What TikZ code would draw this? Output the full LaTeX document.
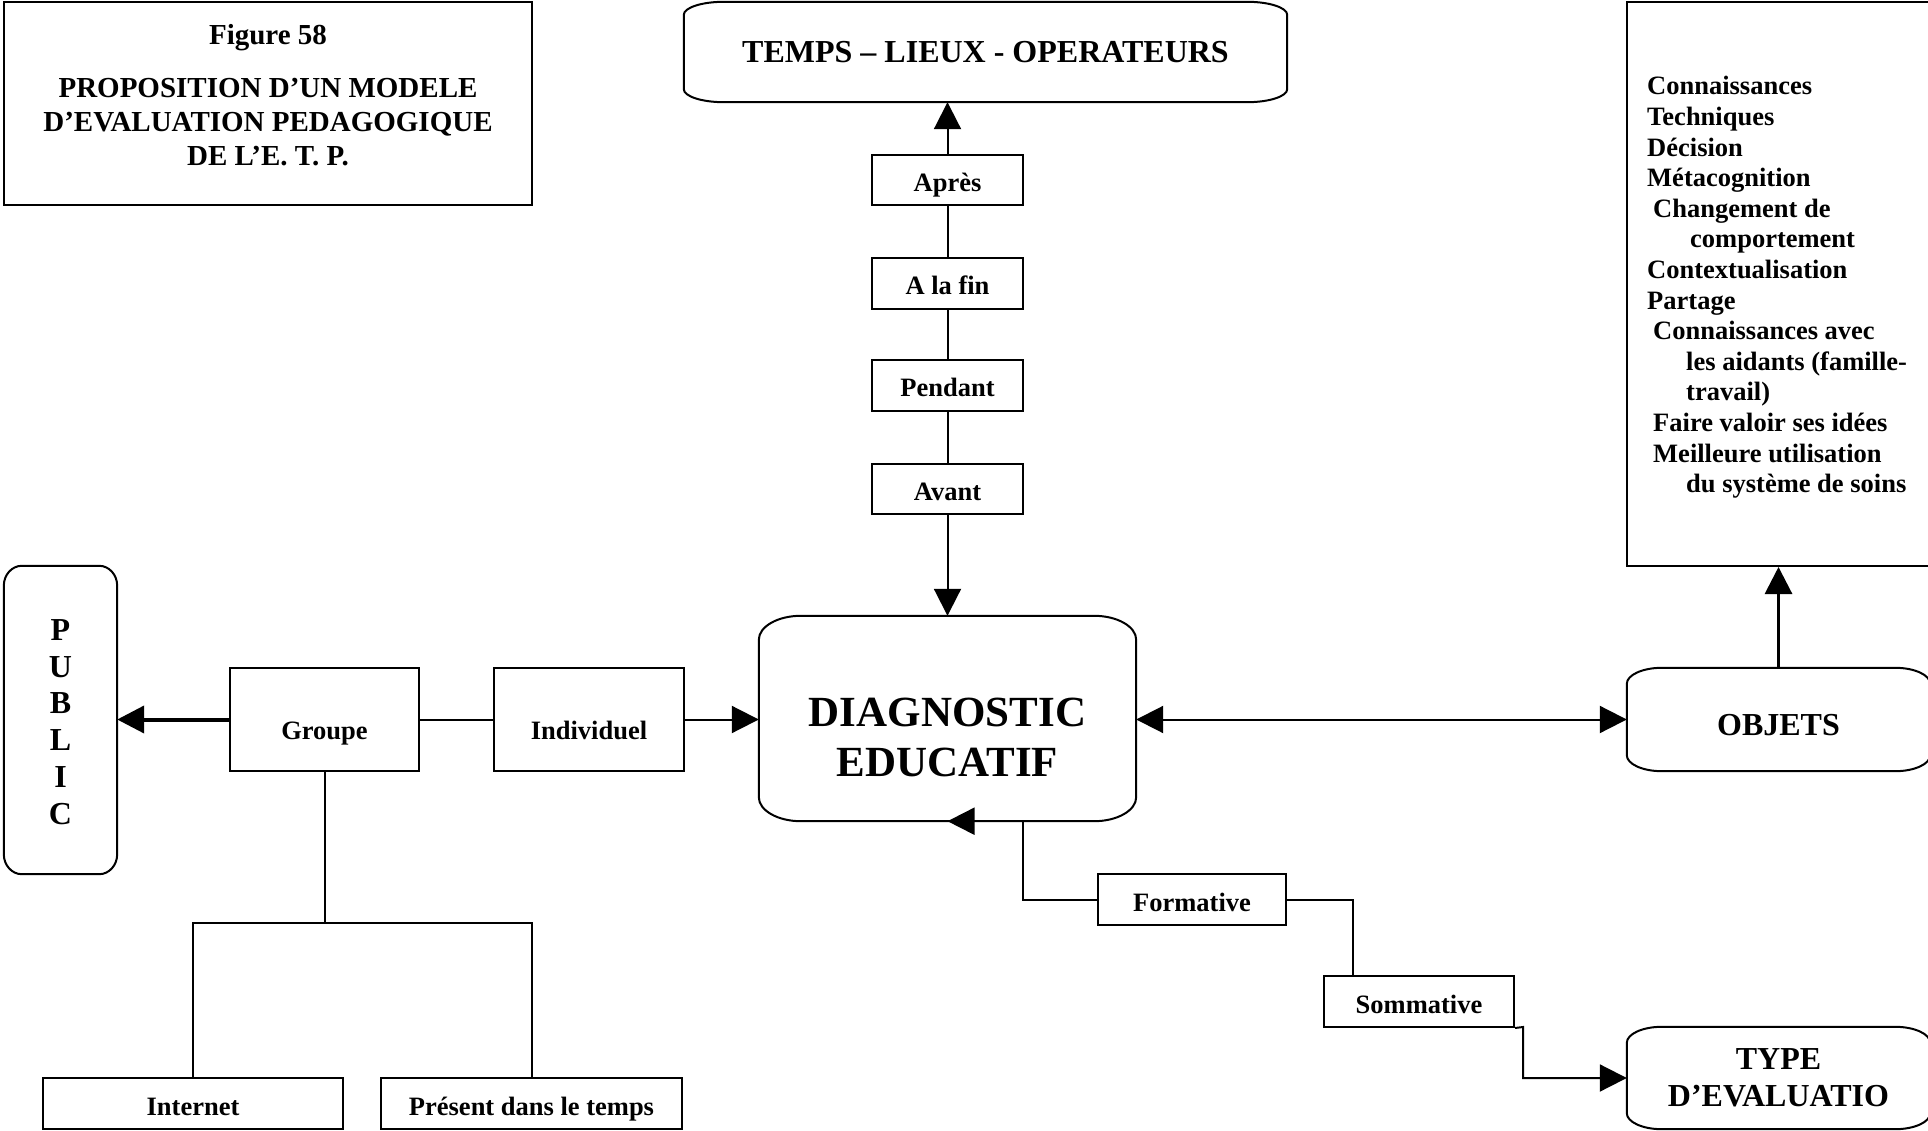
\documentclass[tikz,border=0pt]{standalone}
\usepackage{fontspec}
\setmainfont{Liberation Serif}
\usetikzlibrary{arrows.meta,calc}

% font sizes (1 unit = 1pt)
\newcommand\fLabel{\bfseries\fontsize{26.5}{30.6}\selectfont}
\newcommand\fTitle{\bfseries\fontsize{29}{34}\selectfont}
\newcommand\fCap{\bfseries\fontsize{32}{37}\selectfont}
\newcommand\fPub{\bfseries\fontsize{32}{36.8}\selectfont}
\newcommand\fDiag{\bfseries\fontsize{43}{50}\selectfont}

\tikzset{
  plainbox/.style={draw, line width=2pt, rectangle, inner sep=0pt, align=center, font=\fLabel,
    text height=27pt, text depth=4pt},
  tallbox/.style={plainbox, text height=43pt, text depth=4pt},
  softbox/.style={rectangle, inner sep=0pt, align=center},
  outline/.style={line width=2pt},
  link/.style={line width=2pt},
  headtip/.tip={Triangle[length=27pt,width=27pt]},
  arr/.style={line width=2pt, -headtip},
  dblarr/.style={line width=2pt, headtip-headtip},
}

% rounded outline with elliptical corners around a node: name, x radius, y radius
\newcommand\roundoutline[3]{%
  \draw[outline]
    ($(#1.north west)+(0,#3)$)
      .. controls ($(#1.north west)+(0,0.45*#3)$) and ($(#1.north west)+(0.45*#2,0)$) .. ($(#1.north west)+(#2,0)$)
    -- ($(#1.north east)+(-#2,0)$)
      .. controls ($(#1.north east)+(-0.45*#2,0)$) and ($(#1.north east)+(0,0.45*#3)$) .. ($(#1.north east)+(0,#3)$)
    -- ($(#1.south east)+(0,-#3)$)
      .. controls ($(#1.south east)+(0,-0.45*#3)$) and ($(#1.south east)+(-0.45*#2,0)$) .. ($(#1.south east)+(-#2,0)$)
    -- ($(#1.south west)+(#2,0)$)
      .. controls ($(#1.south west)+(0.45*#2,0)$) and ($(#1.south west)+(0,-0.45*#3)$) .. ($(#1.south west)+(0,-#3)$)
    -- cycle;}

\begin{document}
\begin{tikzpicture}[x=1pt, y=-1pt]
\useasboundingbox (0,0) rectangle (1928,1131);

% title
\node[draw, line width=2pt, rectangle, inner sep=0pt, font=\fTitle, minimum width=528pt, minimum height=203pt] (title) at (268,103.5)
  {\raisebox{5pt}[\height][\depth]{\begin{tabular}{@{}c@{}}Figure 58\\[19pt] PROPOSITION D’UN MODELE\\ D’EVALUATION PEDAGOGIQUE\\ DE L’E. T. P.\end{tabular}}};

% time axis
\node[softbox, font=\fCap, minimum width=603pt, minimum height=100pt] (temps) at (985.5,52) {TEMPS – LIEUX - OPERATEURS};
\roundoutline{temps}{40}{13}
\node[plainbox, minimum width=151pt, minimum height=50pt] (apres)   at (947.5,180)   {Après};
\node[plainbox, minimum width=151pt, minimum height=51pt] (alafin)  at (947.5,283.5) {A la fin};
\node[plainbox, minimum width=151pt, minimum height=51pt] (pendant) at (947.5,385.5) {Pendant};
\node[plainbox, minimum width=151pt, minimum height=50pt] (avant)   at (947.5,489)   {Avant};

% centre
\node[softbox, font=\fDiag, minimum width=377pt, minimum height=205pt] (diag) at (947.5,718.5)
  {\raisebox{-23pt}[\height][\depth]{\begin{tabular}{@{}c@{}}DIAGNOSTIC\\EDUCATIF\end{tabular}}};
\roundoutline{diag}{42}{24}

% public
\node[softbox, font=\fPub, minimum width=113pt, minimum height=308pt] (public) at (60.5,720)
  {\raisebox{-5pt}[\height][\depth]{\begin{tabular}{@{}c@{}}P\\U\\B\\L\\I\\C\end{tabular}}};
\roundoutline{public}{18}{20}
\node[tallbox, minimum width=189pt, minimum height=103pt] (groupe) at (324.5,719.5) {Groupe};
\node[tallbox, minimum width=190pt, minimum height=103pt] (individuel) at (589,719.5) {Individuel};
\node[plainbox, minimum width=300pt, minimum height=51pt] (internet) at (193,1103.5) {Internet};
\node[plainbox, minimum width=301pt, minimum height=51pt] (present) at (531.5,1103.5) {Présent dans le temps};

% evaluation types
\node[plainbox, minimum width=188pt, minimum height=51pt] (formative) at (1192,899.5) {Formative};
\node[plainbox, minimum width=190pt, minimum height=51pt] (sommative) at (1419,1001.5) {Sommative};
\node[softbox, font=\fCap, minimum width=303pt, minimum height=102pt] (type) at (1778.5,1078) {TYPE\\D’EVALUATIO};
\roundoutline{type}{35}{16}

% objects
\node[softbox, font=\fCap, minimum width=303pt, minimum height=103pt] (objets) at (1778.5,719.5)
  {\raisebox{-6pt}[\height][\depth]{OBJETS}};
\roundoutline{objets}{35}{16}
\node[draw, line width=2pt, rectangle, inner sep=0pt, minimum width=303pt, minimum height=564pt] (objbox) at (1778.5,284) {};
\node[anchor=west, inner sep=0pt, align=left, font=\fLabel] (objlist) at (1647,287.5)
  {Connaissances\\
   Techniques\\
   Décision\\
   Métacognition\\
   \hspace*{6pt}Changement de\\
   \hspace*{43pt}comportement\\
   Contextualisation\\
   Partage\\
   \hspace*{6pt}Connaissances avec\\
   \hspace*{39pt}les aidants (famille-\\
   \hspace*{39pt}travail)\\
   \hspace*{6pt}Faire valoir ses idées\\
   \hspace*{6pt}Meilleure utilisation\\
   \hspace*{39pt}du système de soins};

% connectors: time axis
\draw[arr] (apres.north) -- (apres.north |- temps.south);
\draw[link] (apres.south) -- (alafin.north);
\draw[link] (alafin.south) -- (pendant.north);
\draw[link] (pendant.south) -- (avant.north);
\draw[arr] (avant.south) -- (diag.north);

% connectors: public
\draw[line width=4pt, -headtip] (groupe.west) -- (groupe.west -| public.east);
\draw[link] (groupe.east) -- (individuel.west);
\draw[arr] (individuel.east) -- (individuel.east -| diag.west);
\coordinate (fork) at (324.5,923);
\draw[link] (groupe.south) -- (fork);
\draw[link] (internet.north) |- (fork) -| (present.north);

% connectors: objects
\draw[dblarr] (objets.west -| diag.east) -- (objets.west);
\draw[line width=3pt, -headtip] (objets.north) -- (objbox.south);

% connectors: evaluation types
\coordinate (fbend) at (1023,899.5);
\draw[arr] (formative.west) -- (fbend) -- (fbend |- diag.south) -- (diag.south);
\coordinate (sbend) at (1353,899.5);
\draw[link] (formative.east) -- (sbend) -- (sbend |- sommative.north);
\coordinate (tbend) at (1523,1027);
\draw[arr] (sommative.south east) -- (tbend) |- (type.west);
\end{tikzpicture}
\end{document}
